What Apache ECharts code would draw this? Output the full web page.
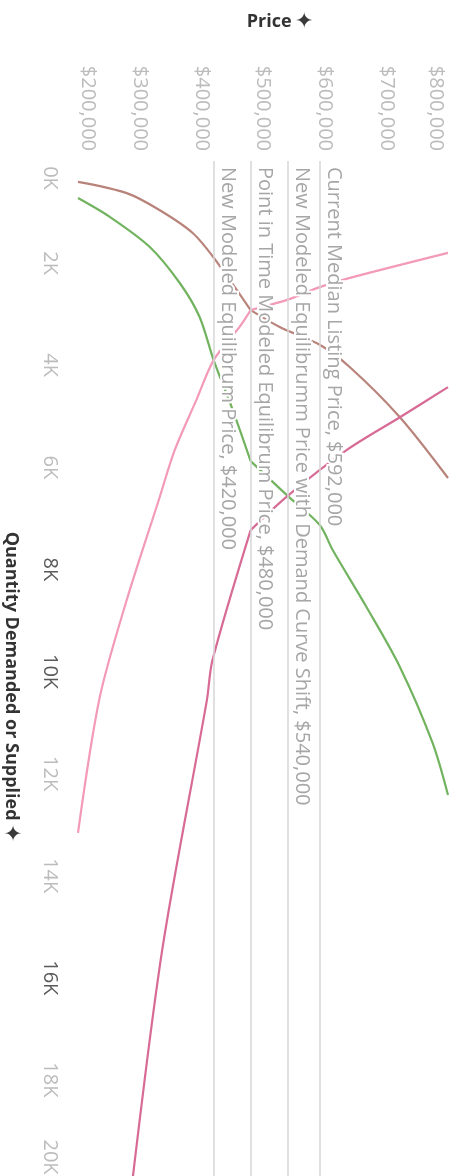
<!DOCTYPE html>
<html>
<head>
<meta charset="utf-8">
<script src="https://cdn.jsdelivr.net/npm/echarts@6/dist/echarts.min.js"></script>
<style>
  html, body { margin: 0; padding: 0; background: #fff; }
  #chart { width: 464px; height: 1176px; }
</style>
</head>
<body>
<div id="chart"></div>
<script>
// ---- data -------------------------------------------------------------
// Price axis (USD) and quantity axis (units)
const priceMin = 200000, priceMax = 800000, priceStep = 100000;
const quantityMin = 0, quantityMax = 20000, quantityStep = 2000;

// Each curve is a list of [price, quantity] points, split at the $480K break.
// Point-in-time supply curve
const supplyNowLow  = [[200000, 410], [279000, 630], [332000, 960], [386000, 1410], [423000, 1940], [480000, 2920]];
const supplyNowHigh = [[480000, 2920], [527000, 3250], [592000, 3600], [641000, 4040], [722000, 5020], [800000, 6210]];
// Modeled supply curve
const supplyNewLow  = [[200000, 725], [251000, 1090], [316000, 1680], [365000, 2390], [397000, 3050], [420000, 3900], [451000, 4880], [480000, 5880]];
const supplyNewHigh = [[480000, 5880], [540000, 6560], [592000, 7130], [613000, 7620], [668000, 8740], [722000, 9910], [775000, 11400], [800000, 12420]];
// Demand curve
const demandLow  = [[200000, 13160], [235000, 10520], [279000, 8600], [331000, 6640], [357000, 5660], [392000, 4680], [420000, 3900], [462000, 3250], [480000, 2920]];
const demandHigh = [[480000, 2920], [539000, 2720], [592000, 2470], [641000, 2290], [800000, 1800]];
// Demand curve after the shift
const demandShiftLow  = [[288000, 20000], [337000, 15420], [409000, 10560], [418000, 9780], [480000, 7230]];
const demandShiftHigh = [[480000, 7230], [540000, 6560], [636000, 5660], [722000, 5020], [800000, 4430]];

// Reference prices drawn as rules
const refNames  = ['Current Median Listing Price', 'New Modeled Equilibrumm Price with Demand Curve Shift', 'Point in Time Modeled Equilibrum Price', 'New Modeled Equilibrum Price'];
const refPrices = [592000, 540000, 480000, 420000];

// ---- helpers ----------------------------------------------------------
const money = v => '$' + v.toLocaleString('en-US');
const FONT = '"Open Sans", "DejaVu Sans", sans-serif';
const tickColor = '#bcbcbc';

const chart = echarts.init(document.getElementById('chart'), null, { renderer: 'canvas' });

function curve(data, color) {
  return {
    type: 'line',
    data: data,
    showSymbol: false,
    symbol: 'none',
    smooth: 0.3,
    silent: true,
    z: 3,
    lineStyle: { color: color, width: 2.2 }
  };
}

const tokenBase = { fontFamily: FONT, fontSize: 20 };
const titleRich = {
  t: { fontFamily: FONT, fontSize: 18, fontWeight: 'bold', color: '#333' },
  i: { fontFamily: '"DejaVu Sans", sans-serif', fontSize: 22, color: '#3a3a3a' }
};

const demandSeries = curve(demandHigh, '#f29ab8');
demandSeries.markLine = {
  silent: true,
  symbol: ['none', 'none'],
  z: 6,
  lineStyle: { color: '#d6d6d6', width: 1.5, type: 'solid' },
  label: {
    show: true,
    position: 'insideStartTop',
    distance: [6, 4],
    formatter: p => p.name,
    color: '#a6a6a6',
    fontFamily: FONT,
    fontSize: 20,
    textBorderColor: '#ffffff',
    textBorderWidth: 4
  },
  data: refPrices.map((v, i) => ({ xAxis: v, name: refNames[i] + ', ' + money(v) }))
};

const option = {
  animation: false,
  backgroundColor: '#ffffff',
  grid: {
    left: 78, right: 16, top: 161, bottom: -6,
    containLabel: false,
    outerBoundsMode: 'none'
  },
  xAxis: {
    type: 'value',
    position: 'top',
    min: priceMin, max: priceMax, interval: priceStep,
    name: '{t|Price} {i|✦}',
    nameLocation: 'middle',
    nameGap: 128,
    nameMoveOverlap: false,
    nameTextStyle: { padding: [0, 0, 0, 34], rich: titleRich },
    axisLine: { show: false },
    axisTick: { show: false },
    splitLine: { show: false },
    axisLabel: {
      rotate: -90,
      margin: 10,
      showMinLabel: true,
      showMaxLabel: true,
      formatter: v => {
        const s = money(v);
        if (v === priceMin) return '{first|' + s + '}';
        if (v === priceMax) return '{last|' + s + '}';
        return '{n|' + s + '}';
      },
      rich: {
        n: Object.assign({ color: tickColor }, tokenBase),
        first: Object.assign({ color: tickColor, padding: [0, 0, 20, 0] }, tokenBase),
        last: Object.assign({ color: tickColor, padding: [24, 0, 0, 0] }, tokenBase)
      }
    }
  },
  yAxis: {
    type: 'value',
    inverse: true,
    min: quantityMin, max: quantityMax, interval: quantityStep,
    name: '{t|Quantity Demanded or Supplied} {i|✦}',
    nameLocation: 'middle',
    nameRotate: -90,
    nameGap: 56,
    nameMoveOverlap: false,
    nameTextStyle: { padding: [0, 0, 0, 31], rich: titleRich },
    axisLine: { show: false },
    axisTick: { show: false },
    splitLine: { show: false },
    axisLabel: {
      rotate: -90,
      margin: 18,
      showMinLabel: true,
      showMaxLabel: true,
      formatter: v => {
        const s = (v / 1000) + 'K';
        const tone = (v === 8000 || v === 10000 || v === 16000) ? 'd' : 'l';
        if (v === quantityMin) return '{' + tone + 'First|' + s + '}';
        if (v === quantityMax) return '{' + tone + 'Last|' + s + '}';
        return '{' + tone + '|' + s + '}';
      },
      rich: {
        l: Object.assign({ color: tickColor }, tokenBase),
        d: Object.assign({ color: '#5a5a5a' }, tokenBase),
        lFirst: Object.assign({ color: tickColor, padding: [0, 0, 0, 34] }, tokenBase),
        lLast: Object.assign({ color: tickColor, padding: [0, 50, 0, 0] }, tokenBase)
      }
    }
  },
  series: [
    curve(supplyNowLow, '#b8837a'),
    curve(supplyNowHigh, '#b8837a'),
    curve(supplyNewLow, '#72b35f'),
    curve(supplyNewHigh, '#72b35f'),
    curve(demandLow, '#f29ab8'),
    demandSeries,
    curve(demandShiftLow, '#d76b96'),
    curve(demandShiftHigh, '#d76b96')
  ]
};

chart.setOption(option);
</script>
</body>
</html>
